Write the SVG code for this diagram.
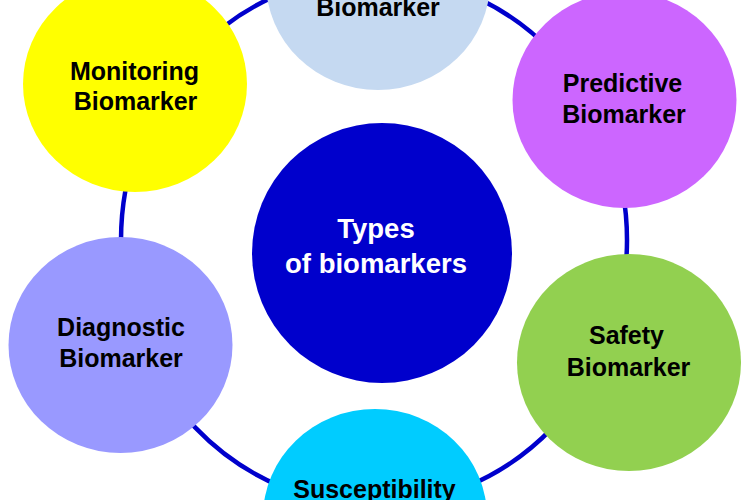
<svg xmlns="http://www.w3.org/2000/svg" width="750" height="500" viewBox="0 0 750 500">
<style>
.lbl{font-family:"Liberation Sans",Arial,sans-serif;font-weight:bold;font-size:25px;fill:#000;text-anchor:middle}
.ctr{font-family:"Liberation Sans",Arial,sans-serif;font-weight:bold;font-size:27.5px;fill:#fff;text-anchor:middle}
.ring{fill:none;stroke:#0000CC;stroke-width:4.5}
</style>
<rect width="750" height="500" fill="#fff"/>
<g id="connectors">
<ellipse class="ring" cx="374" cy="240" rx="253" ry="265"/>
</g>
<g id="node-top">
<ellipse cx="378" cy="-18" rx="112" ry="108" fill="#C5D9F1"/>
<text class="lbl" x="378" y="16">Biomarker</text>
</g>
<g id="node-monitoring">
<ellipse cx="135" cy="84" rx="112" ry="108" fill="#FFFF00"/>
<text class="lbl" x="134.5" y="80">Monitoring</text>
<text class="lbl" x="135.5" y="110">Biomarker</text>
</g>
<g id="node-predictive">
<ellipse cx="624.5" cy="100" rx="112" ry="108" fill="#CC66FF"/>
<text class="lbl" x="622.5" y="92">Predictive</text>
<text class="lbl" x="624" y="123">Biomarker</text>
</g>
<g id="node-diagnostic">
<ellipse cx="120.5" cy="345" rx="112" ry="108" fill="#9999FF"/>
<text class="lbl" x="121" y="336">Diagnostic</text>
<text class="lbl" x="121" y="367">Biomarker</text>
</g>
<g id="node-safety">
<ellipse cx="629" cy="362.5" rx="112" ry="108.5" fill="#92D050"/>
<text class="lbl" x="626.5" y="344">Safety</text>
<text class="lbl" x="628.5" y="376">Biomarker</text>
</g>
<g id="node-susceptibility">
<ellipse cx="375" cy="517" rx="112" ry="108" fill="#00CCFF"/>
<text class="lbl" x="374.5" y="498">Susceptibility</text>
</g>
<g id="node-center">
<circle cx="382" cy="253" r="130" fill="#0000CC"/>
<text class="ctr" x="376" y="238">Types</text>
<text class="ctr" x="376" y="273">of biomarkers</text>
</g>
</svg>
